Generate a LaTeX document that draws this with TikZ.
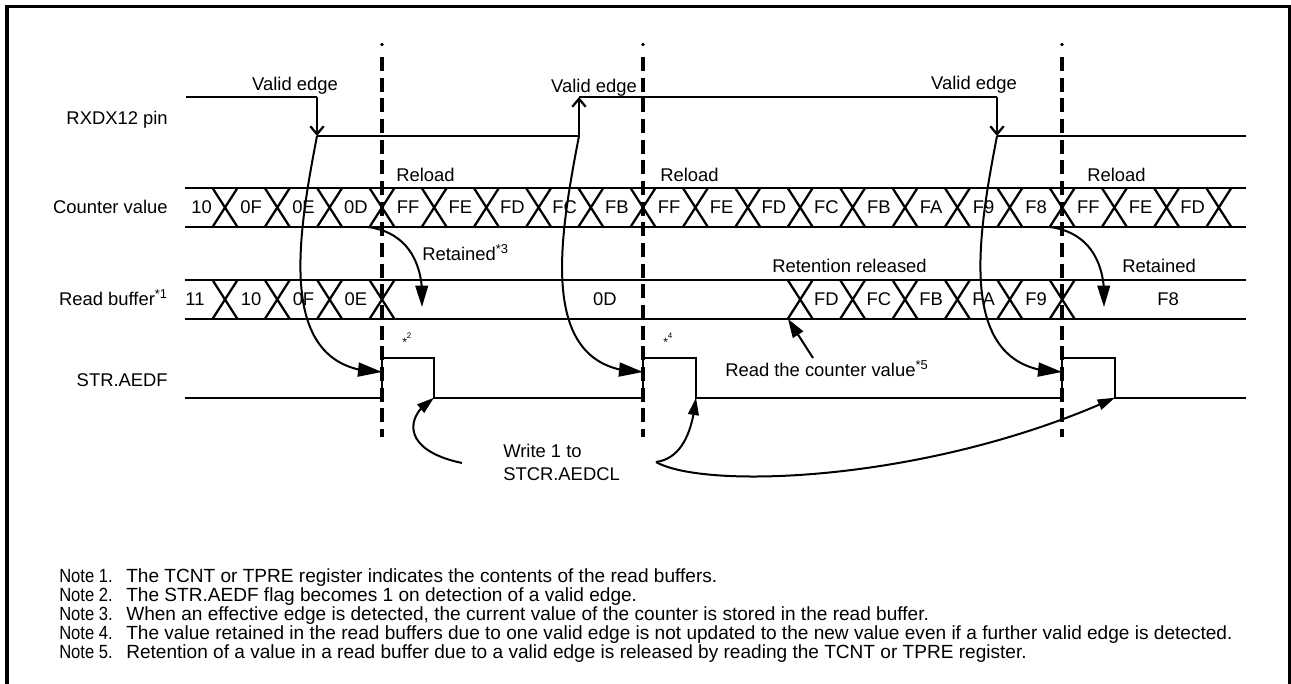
\documentclass[tikz,border=0pt]{standalone}
\usepackage{fontspec}
\setmainfont{Liberation Sans}
\newfontfamily\narrowfont[FakeStretch=0.87]{Liberation Sans}
\usetikzlibrary{arrows.meta,bending}
\newcommand\lblfont{\fontsize{13.8pt}{16pt}\selectfont}
\newcommand\notefnt{\fontsize{14.3pt}{16pt}\selectfont}
\newcommand\notelblfnt{\narrowfont\fontsize{14.3pt}{16pt}\selectfont}
\newcommand\smallstar{\fontsize{9pt}{10pt}\selectfont}
\begin{document}
\begin{tikzpicture}[x=0.75pt,y=-0.75pt,
  sig/.style={line width=1.7pt},
  frame/.style={line width=2.4pt},
  vdash/.style={line width=3pt, dash pattern=on 10.5pt off 5pt},
  lbl/.style={font=\lblfont, inner sep=0pt},
  val/.style={font=\lblfont, inner sep=0pt, anchor=base},
  note/.style={font=\notefnt, inner sep=0pt, anchor=base west},
  notelbl/.style={font=\notelblfnt, inner sep=0pt, anchor=base west},
  edgebarb/.style={-{Straight Barb[length=6pt,width=10pt]}},
  bigarrow/.style={line width=1.5pt, -{Triangle[length=18pt,width=10.5pt]}},
  retarrow/.style={line width=1.5pt, -{Triangle[length=16pt,width=9.5pt]}},
  wrarrow/.style={line width=1.5pt, -{Triangle[length=13pt,width=8pt]}},
  rdarrow/.style={line width=1.5pt, -{Triangle[length=14pt,width=9pt]}}
]
\useasboundingbox (0,0) rectangle (1291,684);
% frame
\draw[frame] (7,700) -- (7,6.3) -- (1290,6.3) -- (1290,700);

% row labels
\node[lbl, anchor=base east] (lrx) at (168,125) {RXDX12 pin};
\node[lbl, anchor=base east] (lcv) at (168,214) {Counter value};
\node[lbl, anchor=base east] (lrb) at (168,305) {Read buffer\textsuperscript{*1}};
\node[lbl, anchor=base east] (lst) at (168,386) {STR.AEDF};

% RXDX12 pin signal
\coordinate (h0) at (186,97);
\coordinate (e1t) at (317,97);
\coordinate (e1) at (317,136);
\coordinate (e2) at (579,136);
\coordinate (e2t) at (579,97);
\coordinate (e3t) at (997,97);
\coordinate (e3) at (997,136);
\coordinate (lend) at (1246,136);
\draw[sig] (h0) -- (e1t);
\draw[sig, edgebarb] (e1t) -- (e1);
\draw[sig] (e1) -- (e2);
\draw[sig, edgebarb] (e2) -- (e2t);
\draw[sig] (e2t) -- (e3t);
\draw[sig, edgebarb] (e3t) -- (e3);
\draw[sig] (e3) -- (lend);

\node[val] (ve1) at (295,91) {Valid edge};
\node[val] (ve2) at (594,93) {Valid edge};
\node[val] (ve3) at (974,90) {Valid edge};

% Counter value bus
\draw[sig] (185,188) -- (1246,188) (185,227) -- (1246,227);
\foreach \x in {225,277.3,329.6,382,434.2,486.4,538.6,590.8,643,695.4,747.8,800.2,852.6,905,957.4,1009.8,1062.2,1114.4,1166.6,1218.8}
  \draw[sig] (\x-12.5,188) -- (\x+12.5,227) (\x-12.5,227) -- (\x+12.5,188);
\foreach \x/\t in {201.5/10,251.2/0F,303.5/0E,355.8/0D,408.1/FF,460.3/FE,512.5/FD,564.7/FC,616.9/FB,669.2/FF,721.6/FE,774/FD,826.4/FC,878.8/FB,931.2/FA,983.6/F9,1036/F8,1088.3/FF,1140.5/FE,1192.7/FD}
  \node[val] at (\x,214) {\t};

\node[lbl, anchor=base west] (rl1) at (396,181.7) {Reload};
\node[lbl, anchor=base west] (rl2) at (660,181.7) {Reload};
\node[lbl, anchor=base west] (rl3) at (1087,181.7) {Reload};

% Read buffer bus
\draw[sig] (185,280) -- (1246,280) (185,319) -- (1246,319);
\foreach \x in {225,277.3,329.6,382,800.2,852.6,905,957.4,1009.8,1062.2}
  \draw[sig] (\x-12.5,280) -- (\x+12.5,319) (\x-12.5,319) -- (\x+12.5,280);
\foreach \x/\t in {195/11,251.2/10,303.5/0F,355.8/0E,605/0D,826.4/FD,878.8/FC,931.2/FB,983.6/FA,1036/F9,1168/F8}
  \node[val] at (\x,305) {\t};

\node[lbl, anchor=base west] (ret1) at (422,260) {Retained\textsuperscript{*3}};
\node[lbl, anchor=base west] (relx) at (772,272.7) {Retention released};
\node[lbl, anchor=base west] (ret2) at (1122,272.7) {Retained};

% STR.AEDF
\coordinate (s0) at (185,397.7);
\coordinate (p1a) at (382,397.7);
\coordinate (p1b) at (382,357.7);
\coordinate (p1c) at (434,357.7);
\coordinate (p1d) at (434,397.7);
\coordinate (p2a) at (643,397.7);
\coordinate (p2b) at (643,357.7);
\coordinate (p2c) at (696,357.7);
\coordinate (p2d) at (696,397.7);
\coordinate (p3a) at (1062,397.7);
\coordinate (p3b) at (1062,357.7);
\coordinate (p3c) at (1115,357.7);
\coordinate (p3d) at (1115,397.7);
\coordinate (s1) at (1246,397.7);
\draw[sig] (s0) -- (p1a) -- (p1b) -- (p1c) -- (p1d) -- (p2a) -- (p2b) -- (p2c) -- (p2d) -- (p3a) -- (p3b) -- (p3c) -- (p3d) -- (s1);

\node[lbl, anchor=base west] (st2) at (402,344) {\smallstar\raisebox{-1.5pt}{*}\textsuperscript{2}};
\node[lbl, anchor=base west] (st4) at (663,344) {\smallstar\raisebox{-1.5pt}{*}\textsuperscript{4}};
\node[lbl, anchor=base west] (rdc) at (725,376.7) {Read the counter value\textsuperscript{*5}};

% dashed vertical lines
\foreach \x in {382,643,1062} {
  \fill (\x,44.5) circle (1.4pt);
  \draw[vdash] (\x,57) -- (\x,437);
}

% edge -> flag arrows
\coordinate (f1) at (382,372);
\coordinate (f2) at (643,372);
\coordinate (f3) at (1062,372);
\draw[bigarrow] (e1) .. controls (297,240) and (275,372) .. (f1);
\draw[bigarrow] (e2) .. controls (559,240) and (536,372) .. (f2);
\draw[bigarrow] (e3) .. controls (977,240) and (955,372) .. (f3);

% retained arrows
\coordinate (r1s) at (368,227);
\coordinate (r1e) at (422,307);
\coordinate (r2s) at (1050,227);
\coordinate (r2e) at (1104,307);
\draw[retarrow] (r1s) .. controls (405,232) and (425,260) .. (r1e);
\draw[retarrow] (r2s) .. controls (1087,232) and (1107,260) .. (r2e);

% read the counter value arrow
\coordinate (rcs) at (813,358);
\coordinate (rce) at (788,319);
\draw[rdarrow] (rcs) -- (rce);

% write arrows
\node[lbl, anchor=base west] (wr1) at (503,457) {Write 1 to};
\node[lbl, anchor=base west] (wr2) at (503,480) {STCR.AEDCL};
\coordinate (wa) at (462,463);
\coordinate (wb) at (656,462);
\draw[wrarrow] (wa) .. controls (400,450) and (405,415) .. (p1d);
\draw[wrarrow] (wb) .. controls (685,458) and (693,425) .. (p2d);
\draw[wrarrow] (wb) .. controls (705,490) and (930,482) .. (p3d);

% notes
\node[notelbl] (n1) at (59,582) {Note 1.};
\node[notelbl] (n2) at (59,601) {Note 2.};
\node[notelbl] (n3) at (59,620) {Note 3.};
\node[notelbl] (n4) at (59,639) {Note 4.};
\node[notelbl] (n5) at (59,658) {Note 5.};
\node[note] (t1) at (126,582) {The TCNT or TPRE register indicates the contents of the read buffers.};
\node[note] (t2) at (126,601) {The STR.AEDF flag becomes 1 on detection of a valid edge.};
\node[note] (t3) at (126,620) {When an effective edge is detected, the current value of the counter is stored in the read buffer.};
\node[note] (t4) at (126,639) {The value retained in the read buffers due to one valid edge is not updated to the new value even if a further valid edge is detected.};
\node[note] (t5) at (126,658) {Retention of a value in a read buffer due to a valid edge is released by reading the TCNT or TPRE register.};
\end{tikzpicture}
\end{document}
